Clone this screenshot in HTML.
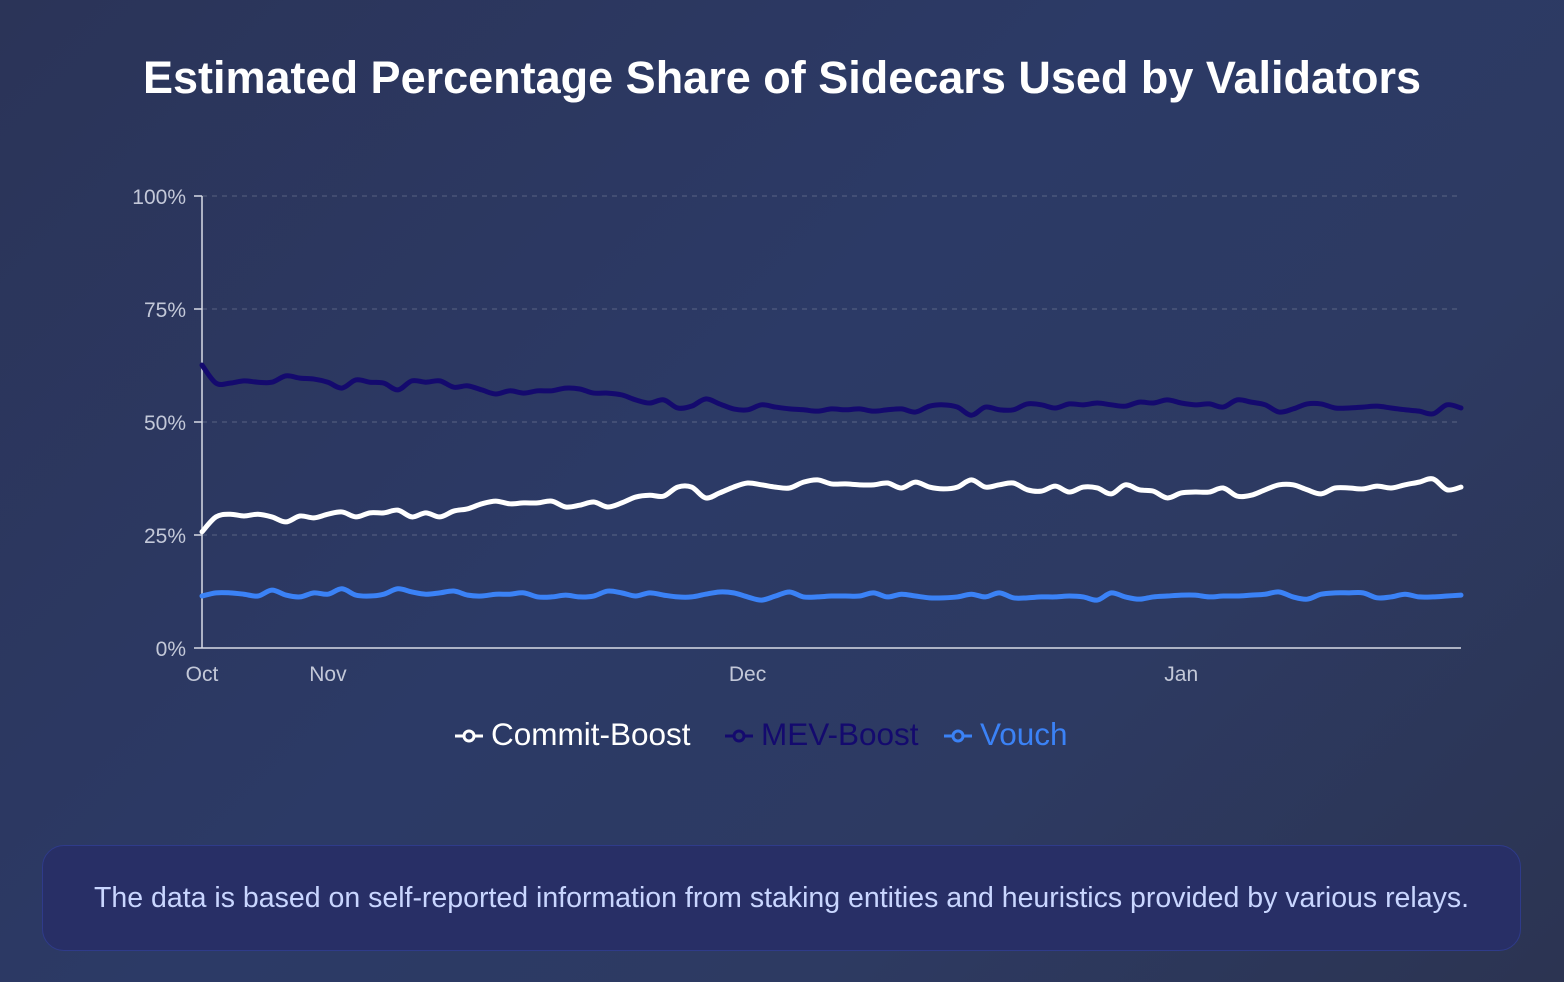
<!DOCTYPE html>
<html><head><meta charset="utf-8"><style>
html,body{margin:0;padding:0;}
body{width:1564px;height:982px;overflow:hidden;background:linear-gradient(135deg,#2b3458 0%,#2c3a66 45%,#2d3a62 70%,#2c3452 100%);font-family:"Liberation Sans",sans-serif;position:relative;}
h1{position:absolute;left:0;right:0;top:52px;margin:0;text-align:center;color:#fff;font-size:45px;font-weight:bold;}
.foot{position:absolute;left:42px;top:845px;width:1479px;height:106px;border-radius:22px;background:#282f66;border:1px solid #2f3b8a;box-sizing:border-box;color:#c9d6ff;font-size:28.5px;text-align:center;line-height:104px;white-space:nowrap;}
svg{position:absolute;left:0;top:0;}
</style></head><body>
<h1>Estimated Percentage Share of Sidecars Used by Validators</h1>
<svg id="chart" width="1564" height="982"></svg>
<div class="foot">The data is based on self-reported information from staking entities and heuristics provided by various relays.</div>
<script>
const dayIndex = Array.from({length:91},(_,i)=>i);
const tickDays = [0,9,39,70];
const tickLabels = ["Oct","Nov","Dec","Jan"];
const yTicks = [0,25,50,75,100];
const mevBoost = [62.6,58.6,58.6,59.1,58.8,58.8,60.2,59.7,59.5,58.8,57.5,59.3,58.8,58.6,57.1,59.1,58.8,59.1,57.7,58.0,57.1,56.2,56.9,56.4,56.9,56.9,57.5,57.3,56.4,56.4,56.0,54.9,54.2,54.9,53.1,53.5,55.1,54.0,52.9,52.7,53.8,53.3,52.9,52.7,52.4,52.9,52.7,52.9,52.4,52.7,52.9,52.2,53.5,53.8,53.3,51.5,53.3,52.7,52.7,54.0,53.8,53.1,54.0,53.8,54.2,53.8,53.5,54.4,54.2,54.9,54.2,53.8,54.0,53.3,54.9,54.4,53.8,52.2,52.9,54.0,54.0,53.1,53.1,53.3,53.5,53.1,52.7,52.4,51.8,53.8,53.1];
const commitBoost = [25.7,29.0,29.6,29.2,29.6,29.0,27.9,29.2,28.8,29.6,30.1,29.0,29.9,29.9,30.5,29.0,29.9,29.0,30.3,30.8,31.9,32.5,31.9,32.1,32.1,32.5,31.2,31.6,32.3,31.2,32.1,33.4,33.8,33.6,35.6,35.6,33.2,34.3,35.6,36.5,36.1,35.6,35.4,36.7,37.2,36.3,36.3,36.1,36.1,36.5,35.4,36.7,35.6,35.2,35.6,37.2,35.6,36.1,36.5,35.0,34.7,35.8,34.5,35.6,35.4,34.1,36.1,35.0,34.7,33.2,34.3,34.5,34.5,35.4,33.6,33.8,35.0,36.1,36.1,35.0,34.1,35.4,35.4,35.2,35.8,35.4,36.1,36.7,37.4,35.0,35.6];
const vouch = [11.5,12.2,12.2,11.9,11.5,12.8,11.7,11.3,12.2,11.9,13.1,11.7,11.5,11.9,13.1,12.4,11.9,12.2,12.6,11.7,11.5,11.9,11.9,12.2,11.3,11.3,11.7,11.3,11.5,12.6,12.2,11.5,12.2,11.7,11.3,11.3,11.9,12.4,12.2,11.3,10.6,11.5,12.4,11.3,11.3,11.5,11.5,11.5,12.2,11.3,11.9,11.5,11.1,11.1,11.3,11.9,11.3,12.2,11.1,11.1,11.3,11.3,11.5,11.3,10.6,12.2,11.3,10.8,11.3,11.5,11.7,11.7,11.3,11.5,11.5,11.7,11.9,12.4,11.3,10.8,11.9,12.2,12.2,12.2,11.1,11.3,11.9,11.3,11.3,11.5,11.7];
const NS='http://www.w3.org/2000/svg';
const svg=document.getElementById('chart');
const X0=202,X1=1461,Y0=648,Y1=196;
const xs=d=>X0+(X1-X0)*d/90;
const ys=v=>Y0-(Y0-Y1)*v/100;
function mk(tag,attrs){const e=document.createElementNS(NS,tag);for(const k in attrs)e.setAttribute(k,attrs[k]);svg.appendChild(e);return e;}
yTicks.forEach(t=>{
  if(t>0){const g=mk('line',{x1:X0,x2:X1,y1:ys(t),y2:ys(t),stroke:'rgba(255,255,255,0.22)','stroke-dasharray':'5 5','stroke-width':1});
  
  }
  const tk=mk('line',{x1:X0-8,x2:X0,y1:ys(t),y2:ys(t),stroke:'#d8dbe6','stroke-width':1.5});
  
  
  const tx=mk('text',{x:X0-16,y:ys(t)+8,'text-anchor':'end',fill:'#c3c8d8','font-size':21,'font-family':'Liberation Sans, sans-serif'});
  tx.textContent=t+'%';
  
  
});
const ax=mk('line',{x1:X0,x2:X0,y1:Y1,y2:Y0,stroke:'#d8dbe6','stroke-width':1.5});


const bx=mk('line',{x1:X0,x2:X1,y1:Y0,y2:Y0,stroke:'#d8dbe6','stroke-width':1.5});


tickDays.forEach((d,i)=>{
  const tx=mk('text',{x:xs(d),y:681,'text-anchor':'middle',fill:'#c3c8d8','font-size':21,'font-family':'Liberation Sans, sans-serif'});
  tx.textContent=tickLabels[i];
  
  
});
function path(vals){
  const p=vals.map((v,i)=>[xs(dayIndex[i]),ys(v)]);
  let d='M'+p[0][0]+','+p[0][1];
  for(let i=0;i<p.length-1;i++){
    const a=p[i-1]||p[i],b=p[i],c=p[i+1],e=p[i+2]||c;
    d+=` C${b[0]+(c[0]-a[0])/6},${b[1]+(c[1]-a[1])/6} ${c[0]-(e[0]-b[0])/6},${c[1]-(e[1]-b[1])/6} ${c[0]},${c[1]}`;
  }
  return d;
}
[[mevBoost,'#140a6e','mev-boost-line'],[commitBoost,'#ffffff','commit-boost-line'],[vouch,'#3b82f6','vouch-line']].forEach(s=>{
  const l=mk('path',{d:path(s[0]),fill:'none',stroke:s[1],'stroke-width':5,'stroke-linejoin':'round','stroke-linecap':'round'});
  
  
});
const legend=[['Commit-Boost','#ffffff',455],['MEV-Boost','#140a6e',725],['Vouch','#3b82f6',944]];
legend.forEach(L=>{
  const x=L[2];
  const ln=mk('line',{x1:x,x2:x+28,y1:736,y2:736,stroke:L[1],'stroke-width':3});
  
  
  const c=mk('circle',{cx:x+14,cy:736,r:5,fill:'#2c3a66',stroke:L[1],'stroke-width':3});
  
  
  const t=mk('text',{x:x+36,y:745,fill:L[1],'font-size':31.5,'font-family':'Liberation Sans, sans-serif'});
  t.textContent=L[0];
  
  
});
</script>
</body></html>
